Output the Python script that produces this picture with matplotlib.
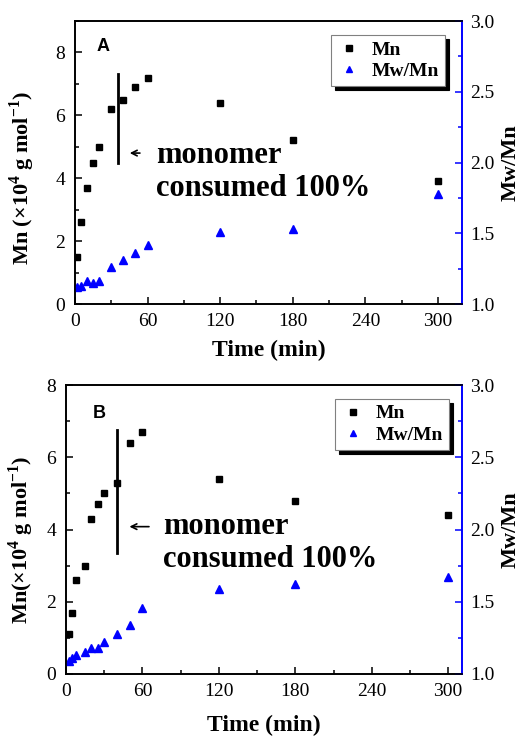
import numpy as np
import matplotlib
matplotlib.use("Agg")
import matplotlib.pyplot as plt
from matplotlib.ticker import MultipleLocator

plt.rcParams['font.family'] = ['Liberation Serif', 'DejaVu Serif']
plt.rcParams['mathtext.fontset'] = 'custom'
plt.rcParams['mathtext.rm'] = 'Liberation Serif'
plt.rcParams['mathtext.bf'] = 'Liberation Serif:bold'

# panel A
timeA = [2, 5, 10, 15, 20, 30, 40, 50, 60, 120, 180, 300]
mnA = [1.5, 2.6, 3.7, 4.5, 5.0, 6.2, 6.5, 6.9, 7.2, 6.4, 5.2, 3.9]
pdiA = [1.12, 1.13, 1.16, 1.15, 1.165, 1.26, 1.31, 1.36, 1.42, 1.51, 1.53, 1.775]

# panel B
timeB = [2, 5, 8, 15, 20, 25, 30, 40, 50, 60, 120, 180, 300]
mnB = [1.1, 1.7, 2.6, 3.0, 4.3, 4.7, 5.0, 5.3, 6.4, 6.7, 5.4, 4.8, 4.4]
pdiB = [1.09, 1.11, 1.13, 1.15, 1.18, 1.18, 1.22, 1.28, 1.34, 1.46, 1.59, 1.62, 1.67]

xticks = [0, 60, 120, 180, 240, 300]

fig = plt.figure(figsize=(5.24, 7.37), dpi=100)


def makePanel(rect, t, mn, pdi, xmax, ymax, letter, letterPos, ylab,
              vline, arrow, textPos, legAnchor, labCoords):
    ax = fig.add_axes(rect)
    ax2 = ax.twinx()
    ax.plot(t, mn, 's', color='black', ms=4.3, label='Mn')
    ax2.plot(t, pdi, '^', color='blue', ms=5.5, label='Mw/Mn')

    ax.set_xlim(0, xmax)
    ax.set_ylim(0, ymax)
    ax2.set_ylim(1.0, 3.0)
    ax.set_xticks(xticks)
    ax.xaxis.set_minor_locator(MultipleLocator(30))
    ax.yaxis.set_major_locator(MultipleLocator(2))
    ax.yaxis.set_minor_locator(MultipleLocator(1))
    ax2.yaxis.set_major_locator(MultipleLocator(0.5))
    ax2.yaxis.set_minor_locator(MultipleLocator(0.25))
    ax2.set_yticklabels(['%.1f' % v for v in ax2.get_yticks()])

    ax.tick_params(axis='both', which='both', direction='in', labelsize=14,
                   top=False, right=False, width=1.1)
    ax.tick_params(which='major', length=5)
    ax.tick_params(which='minor', length=3)
    ax.tick_params(axis='x', which='both', pad=6.5)
    ax.tick_params(axis='y', which='both', pad=7)
    ax2.tick_params(axis='y', which='both', direction='in', labelsize=14,
                    colors='blue', labelcolor='black', width=1.1, pad=5.5)
    ax2.tick_params(which='major', length=5)
    ax2.tick_params(which='minor', length=3)
    for s in ax.spines.values():
        s.set_linewidth(1.2)
    for s in ax2.spines.values():
        s.set_linewidth(1.2)
    ax.spines['right'].set_color('blue')
    ax2.spines['right'].set_color('blue')

    ax.set_xlabel('Time (min)', fontsize=17, fontweight='bold')
    ax.set_ylabel(ylab, fontsize=16, fontweight='bold')
    ax2.set_ylabel('Mw/Mn', fontsize=16, fontweight='bold')
    ax.xaxis.set_label_coords(0.5, labCoords[0])
    ax.yaxis.set_label_coords(labCoords[1], labCoords[2])
    ax2.yaxis.set_label_coords(labCoords[3], 0.5)

    ax.text(letterPos[0], letterPos[1], letter, transform=ax.transAxes,
            family='Liberation Sans', fontweight='bold', fontsize=13,
            ha='left', va='top')

    # monomer consumed marker
    ax.plot([vline[0], vline[0]], [vline[1], vline[2]], color='black', lw=2)
    ax.annotate('', xy=(arrow[0], arrow[2]), xytext=(arrow[1], arrow[2]),
                arrowprops=dict(arrowstyle='->', color='black', lw=1.2))
    ax.text(textPos[0], textPos[1], 'monomer\nconsumed 100%', fontsize=22,
            fontweight='bold', ha='left', va='center', linespacing=1.15)

    h1, l1 = ax.get_legend_handles_labels()
    h2, l2 = ax2.get_legend_handles_labels()
    leg = ax2.legend(h1 + h2, l1 + l2, loc='upper right',
                     bbox_to_anchor=legAnchor, borderaxespad=0,
                     fancybox=False, edgecolor='gray', framealpha=1,
                     shadow={'color': 'black', 'alpha': 1, 'ox': 3, 'oy': -3},
                     prop={'weight': 'bold', 'size': 14}, handlelength=1.2,
                     handletextpad=0.6, borderpad=0.3, labelspacing=0.2,
                     markerscale=0.9)
    leg.get_frame().set_linewidth(0.8)
    return ax, ax2


makePanel([0.143, 0.5875, 0.739, 0.384], timeA, mnA, pdiA, 320, 9, 'A',
          (0.057, 0.94), 'Mn (\u00d710$^{\\mathbf{4}}$ g mol$^{\\mathbf{-1}}$)',
          (36, 4.5, 7.3), (43, 56, 4.8), (67, 4.2), (0.956, 0.95),
          (-0.127, -0.098, 0.445, 1.098))
makePanel([0.126, 0.0855, 0.756, 0.392], timeB, mnB, pdiB, 311, 8, 'B',
          (0.068, 0.93), 'Mn(\u00d710$^{\\mathbf{4}}$ g mol$^{\\mathbf{-1}}$)',
          (40, 3.36, 6.76), (47.6, 67.3, 4.08), (76, 3.63), (0.967, 0.952),
          (-0.142, -0.076, 0.464, 1.096))

fig.savefig('out.png', dpi=100)
